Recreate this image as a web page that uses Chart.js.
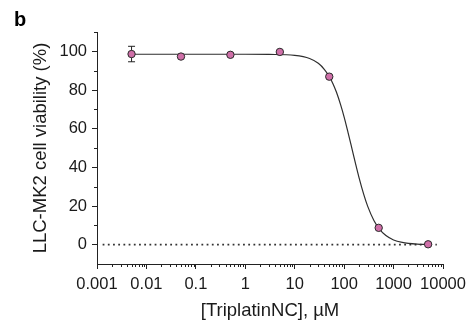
<!DOCTYPE html>
<html>
<head>
<meta charset="utf-8">
<script src="https://cdn.jsdelivr.net/npm/chart.js@4/dist/chart.umd.min.js"></script>
<style>
  html, body { margin: 0; padding: 0; background: #ffffff; }
  #wrap { width: 476px; height: 330px; position: relative; }
</style>
</head>
<body>
<div id="wrap"><canvas id="c" width="476" height="330"></canvas></div>
<script>
// ---- data ----
const concentrations = [0.005, 0.05, 0.5, 5, 50, 500, 5000];      // µM
const viability      = [98.6, 97.3, 98.2, 99.7, 86.9, 8.7, 0.2];   // %
const viabilityErr   = [4.0, 0, 0, 0, 0, 0, 0];                     // ± %
const fitX = [0.005, 0.1, 1, 3, 10, 20, 30, 40, 50, 60, 70, 85, 100, 120, 145, 170, 200, 250, 300, 400, 500, 700, 1000, 1500, 2000, 3000, 5000];
const fitY = [98.5, 98.5, 98.5, 98.4, 97.9, 96.3, 93.8, 90.6, 87.0, 83.0, 78.8, 72.3, 66.0, 58.0, 49.3, 41.9, 34.7, 25.9, 19.8, 12.5, 8.6, 4.7, 2.45, 1.15, 0.67, 0.31, 0.12];
const zeroLineX = [0.0013, 7500];
const zeroLineY = [0, 0];
const xTicks = [0.001, 0.01, 0.1, 1, 10, 100, 1000, 10000];
const xTickLabels = ['0.001', '0.01', '0.1', '1', '10', '100', '1000', '10000'];
const yTicks = [0, 20, 40, 60, 80, 100];
const yMinorTicks = [10, 30, 50, 70, 90, 110];
const panelLabel = 'b';
const xTitle = '[TriplatinNC], µM';
const yTitle = 'LLC-MK2 cell viability (%)';

const FONT = '"Liberation Sans", Arial, Helvetica, sans-serif';
const INK = '#1a1a1a';
const AXIS = '#222222';

const toXY = (xs, ys) => xs.map((x, i) => ({x: x, y: ys[i]}));

const errorBars = {
  id: 'errorBars',
  beforeDatasetsDraw(chart) {
    const {ctx, scales: {x, y}} = chart;
    ctx.save();
    ctx.strokeStyle = '#222';
    ctx.lineWidth = 1;
    concentrations.forEach((c, i) => {
      const e = viabilityErr[i];
      if (!e) return;
      const px = x.getPixelForValue(c);
      const yt = y.getPixelForValue(viability[i] + e);
      const yb = y.getPixelForValue(viability[i] - e);
      ctx.beginPath();
      ctx.moveTo(px, yt); ctx.lineTo(px, yb);
      ctx.moveTo(px - 3.5, yt); ctx.lineTo(px + 3.5, yt);
      ctx.moveTo(px - 3.5, yb); ctx.lineTo(px + 3.5, yb);
      ctx.stroke();
    });
    ctx.restore();
  }
};

const minorTicks = {
  id: 'minorTicks',
  afterDraw(chart) {
    const {ctx, chartArea, scales: {x, y}} = chart;
    ctx.save();
    ctx.strokeStyle = AXIS;
    ctx.lineWidth = 1;
    ctx.beginPath();
    for (let d = 0; d < xTicks.length - 1; d++) {
      for (let m = 2; m <= 9; m++) {
        const px = Math.round(x.getPixelForValue(xTicks[d] * m)) + 0.5;
        ctx.moveTo(px, chartArea.bottom);
        ctx.lineTo(px, chartArea.bottom + 3);
      }
    }
    yMinorTicks.forEach(v => {
      const py = Math.round(y.getPixelForValue(v)) + 0.5;
      ctx.moveTo(chartArea.left, py);
      ctx.lineTo(chartArea.left - 3, py);
    });
    ctx.stroke();
    ctx.fillStyle = '#000';
    ctx.font = 'bold 20px ' + FONT;
    ctx.textBaseline = 'alphabetic';
    ctx.fillText(panelLabel, 14, 26);
    ctx.restore();
  }
};

new Chart(document.getElementById('c'), {
  type: 'line',
  data: {
    datasets: [
      {
        label: 'data',
        data: toXY(concentrations, viability),
        showLine: false,
        pointRadius: 3.7,
        pointHoverRadius: 3.7,
        pointBackgroundColor: '#cf6fa8',
        pointBorderColor: '#2a2a2a',
        pointBorderWidth: 1,
        order: 0
      },
      {
        label: 'fit',
        data: toXY(fitX, fitY),
        borderColor: '#2e2e2e',
        borderWidth: 1.2,
        pointRadius: 0,
        fill: false,
        cubicInterpolationMode: 'monotone',
        order: 1
      },
      {
        label: 'zero',
        data: toXY(zeroLineX, zeroLineY),
        borderColor: '#333333',
        borderWidth: 1.6,
        borderDash: [1.8, 3.4],
        pointRadius: 0,
        fill: false,
        order: 2
      }
    ]
  },
  options: {
    responsive: false,
    animation: false,
    devicePixelRatio: 1,
    layout: { padding: { left: 0, right: 33, top: 32, bottom: 0 } },
    plugins: { legend: { display: false }, tooltip: { enabled: false }, title: { display: false } },
    scales: {
      x: {
        type: 'logarithmic',
        min: 0.001,
        max: 10000,
        afterBuildTicks: s => { s.ticks = xTicks.map(v => ({value: v})); },
        afterFit: s => { s.height = 66; },
        ticks: {
          autoSkip: false,
          maxRotation: 0,
          padding: 6,
          color: INK,
          font: { family: FONT, size: 16.5 },
          callback: (v, i) => xTickLabels[i]
        },
        grid: { drawOnChartArea: false, drawTicks: true, tickLength: 5, tickColor: AXIS },
        border: { display: true, color: AXIS, width: 1 },
        title: {
          display: true,
          text: xTitle,
          color: INK,
          font: { family: FONT, size: 18.5 },
          padding: { top: 0, bottom: 8 }
        }
      },
      y: {
        type: 'linear',
        min: -10,
        max: 110,
        afterBuildTicks: s => { s.ticks = yTicks.map(v => ({value: v})); },
        afterFit: s => { s.width = 97; },
        ticks: {
          autoSkip: false,
          padding: 5,
          color: INK,
          font: { family: FONT, size: 16.5 }
        },
        grid: { drawOnChartArea: false, drawTicks: true, tickLength: 5, tickColor: AXIS },
        border: { display: true, color: AXIS, width: 1 },
        title: {
          display: true,
          text: yTitle,
          color: INK,
          font: { family: FONT, size: 18.5 },
          padding: { top: 30, bottom: 0 }
        }
      }
    }
  },
  plugins: [errorBars, minorTicks]
});
</script>
</body>
</html>
